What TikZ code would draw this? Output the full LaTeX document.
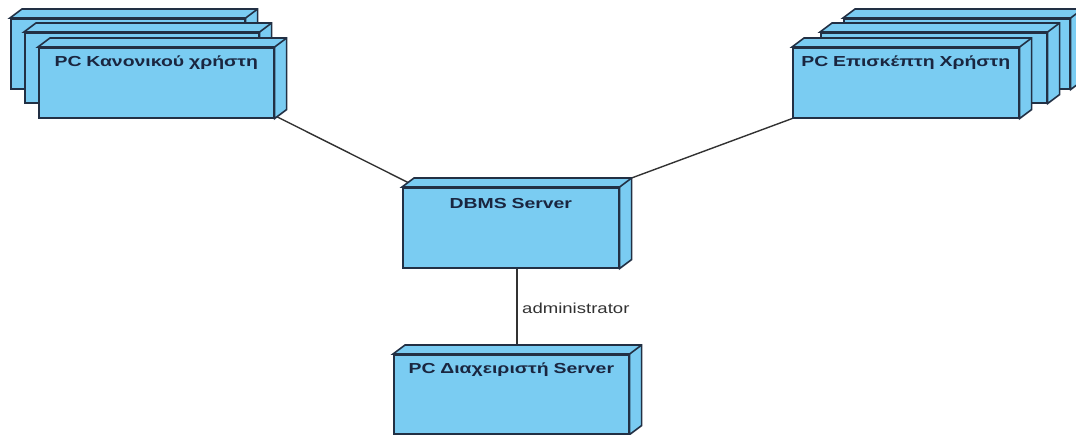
\documentclass[tikz,border=0pt]{standalone}
\usepackage{fontspec}
\usetikzlibrary{calc}
\newfontfamily\boxfont[FakeStretch=1.34]{Liberation Sans}
\newfontfamily\linkfont[FakeStretch=1.28]{Liberation Sans}
\definecolor{nodefill}{RGB}{122,204,242}
\definecolor{edge}{RGB}{34,48,68}
\definecolor{ink}{RGB}{26,38,64}
\definecolor{wire}{RGB}{50,50,50}
\pgfdeclarelayer{background}
\pgfsetlayers{background,main}
\tikzset{
  box/.style={draw=edge, fill=nodefill, line width=1.6pt, line join=miter},
  devnode/.style={box, anchor=north west, inner sep=0pt, align=center,
    text=ink, font=\boxfont\bfseries\fontsize{14.5}{16}\selectfont},
  wirestyle/.style={draw=wire, line width=1.4pt},
  linklabel/.style={anchor=base west, inner sep=0pt, text=wire,
    font=\linkfont\fontsize{14.5}{16}\selectfont}
}
% top and right faces of a 3D node box
\newcommand\depthfaces[1]{%
  \path[box] (#1.north west) -- ([shift={(12,-9)}]#1.north west)
    -- ([shift={(12,-9)}]#1.north east) -- ([shift={(12,-9)}]#1.south east)
    -- (#1.south east) -- (#1.north east) -- cycle;
  \draw[box] (#1.north east) -- ([shift={(12,-9)}]#1.north east);}
\begin{document}
\begin{tikzpicture}[x=1pt,y=-1pt]
\useasboundingbox (0,0) rectangle (1076,435);

% regular user PCs (stack)
\node[devnode, text width=234pt, text height=19pt, text depth=51pt] (L1) at (10,18) {};
\depthfaces{L1}
\node[devnode, text width=234pt, text height=19pt, text depth=51pt] (L2) at (24,32) {};
\depthfaces{L2}
\node[devnode, text width=235pt, text height=19pt, text depth=51pt] (L3) at (38,47) {PC Κανονικού χρήστη};
\depthfaces{L3}

% guest user PCs (stack)
\node[devnode, text width=226pt, text height=19pt, text depth=51pt] (R3) at (843,18) {};
\depthfaces{R3}
\node[devnode, text width=226pt, text height=19pt, text depth=51pt] (R2) at (820,32) {};
\depthfaces{R2}
\node[devnode, text width=226pt, text height=19pt, text depth=51pt] (R1) at (792,47) {PC Επισκέπτη Χρήστη};
\depthfaces{R1}

% database server
\node[devnode, text width=216pt, text height=21pt, text depth=59pt] (dbms) at (402,187) {DBMS Server};
\depthfaces{dbms}

% administrator PC
\node[devnode, text width=235pt, text height=19pt, text depth=60pt] (admin) at (393,354) {PC Διαχειριστή Server};
\depthfaces{admin}

% connections
\begin{pgfonlayer}{background}
\draw[wirestyle] ([shift={(0,-3)}]L3.south east) -- ([shift={(6,-4.5)}]dbms.north west);
\draw[wirestyle] ([shift={(12,-9)}]dbms.north east) -- (R1.south west);
\draw[wirestyle] (dbms.south -| 517,0) coordinate (up) -- (up |- admin.north) coordinate (down);
\end{pgfonlayer}
\node[linklabel] (lbl) at (522,314) {administrator};
\end{tikzpicture}
\end{document}
